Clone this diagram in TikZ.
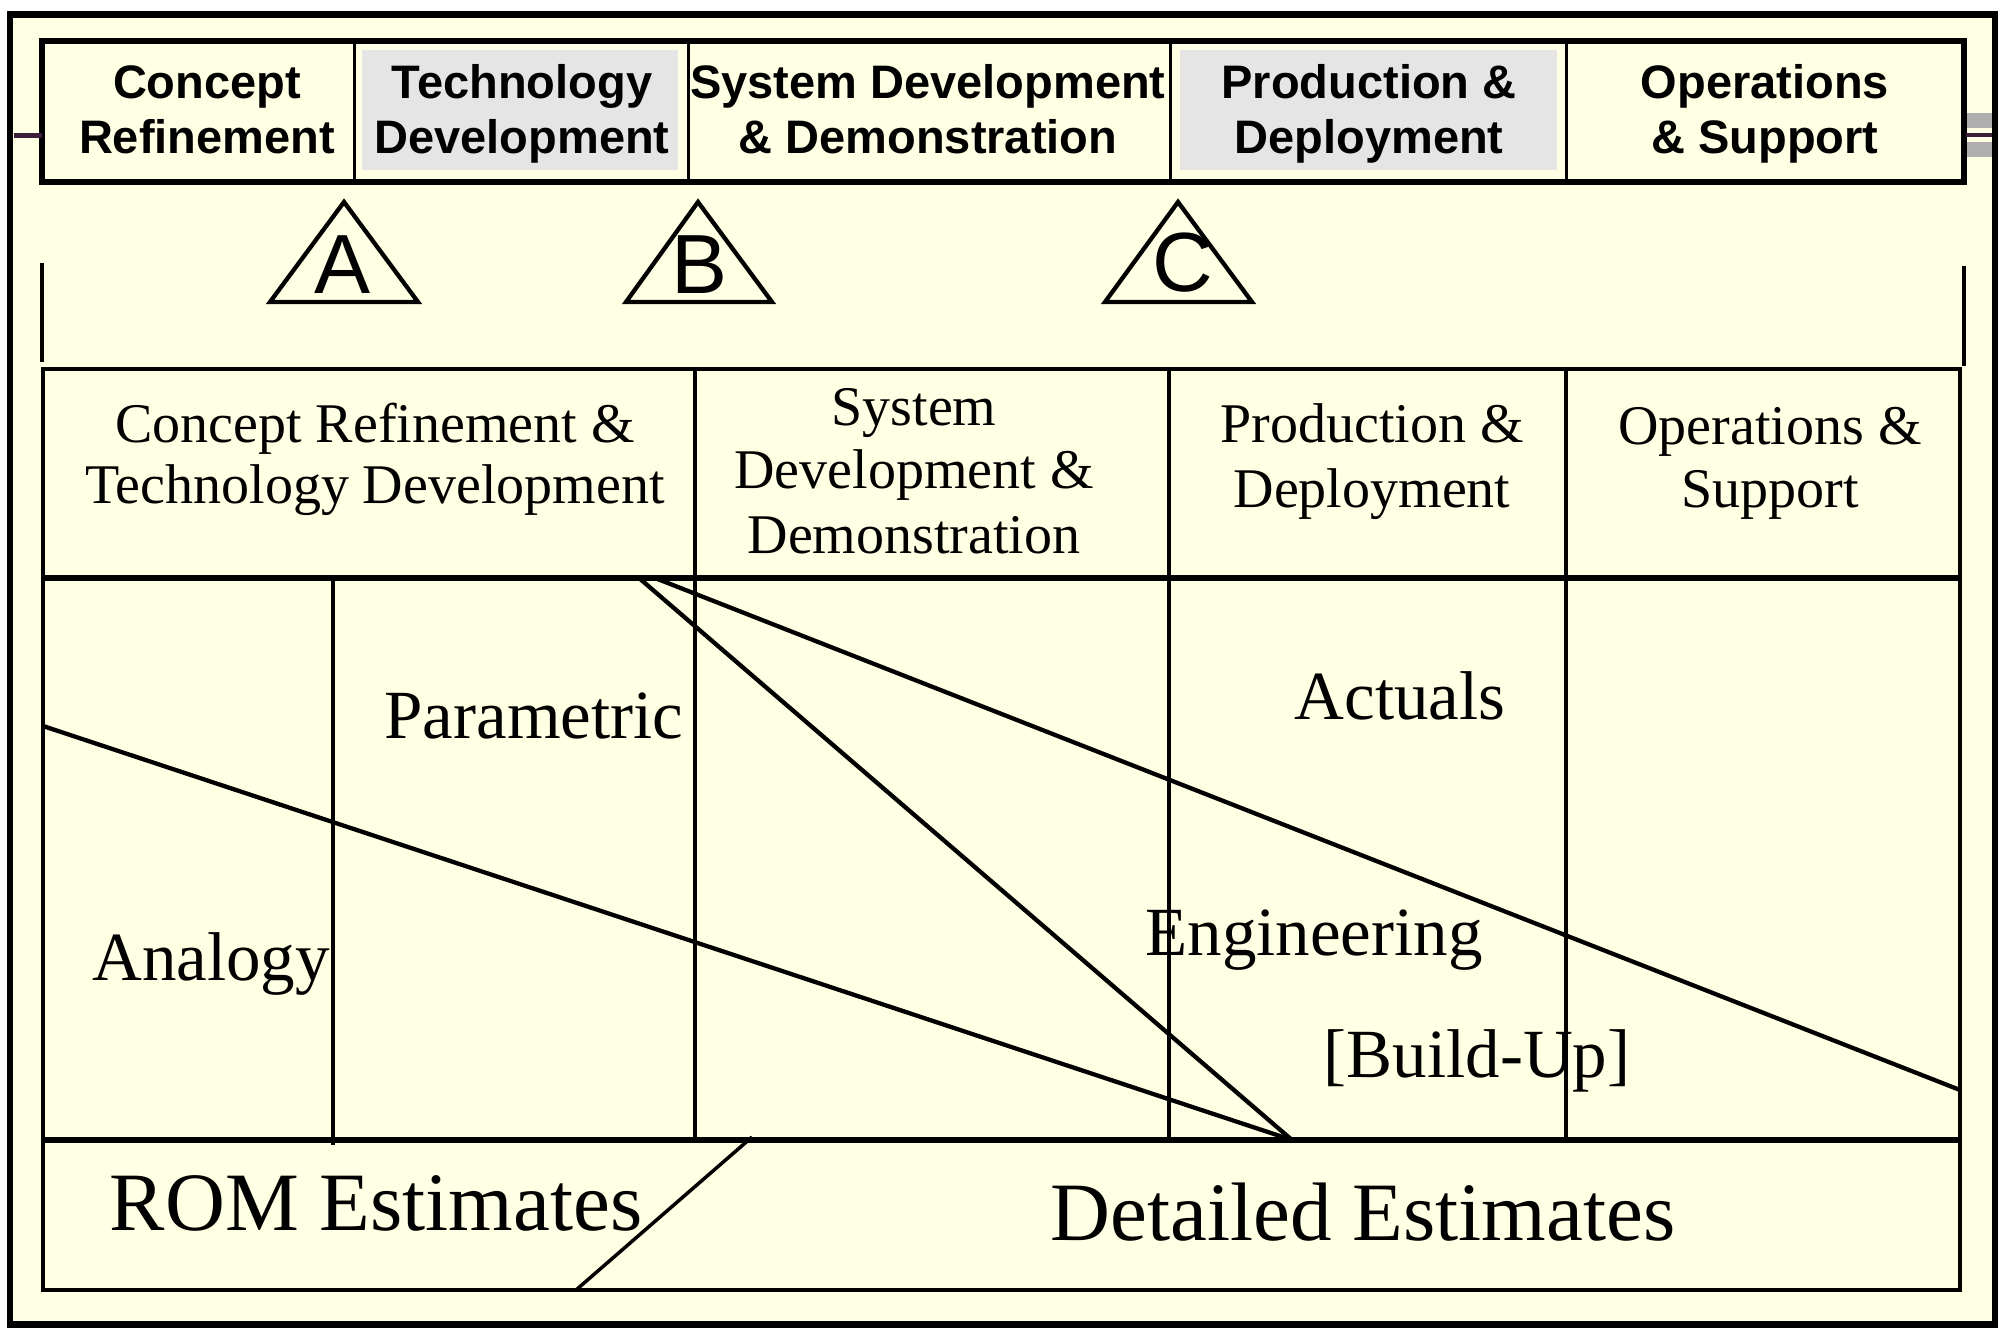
\documentclass[tikz,border=0pt]{standalone}
\usepackage{fontspec}
\setmainfont{Liberation Serif}
\newfontfamily\arialfont{Liberation Sans}
\definecolor{cream}{RGB}{255,255,228}
\definecolor{cellgray}{RGB}{229,229,229}
\definecolor{stubgray}{RGB}{175,175,175}
\definecolor{stubline}{RGB}{60,30,60}
\begin{document}
\begin{tikzpicture}[x=1pt,y=-1pt,
  phase/.style={font=\arialfont\bfseries\fontsize{47}{55}\selectfont, anchor=base, inner sep=0pt},
  mslab/.style={font=\arialfont\fontsize{84}{90}\selectfont, anchor=base, inner sep=0pt},
  hdr/.style={font=\fontsize{56}{62}\selectfont, anchor=base, inner sep=0pt},
  body/.style={font=\fontsize{69}{75}\selectfont, anchor=base, inner sep=0pt},
  est/.style={font=\fontsize{83}{90}\selectfont, anchor=base, inner sep=0pt},
  thin/.style={line width=3pt},
  mid/.style={line width=4.3pt},
  thick/.style={line width=6pt},
  tri/.style={line width=4.3pt, line join=miter}]
\useasboundingbox (0,0) rectangle (2015,1339);
\fill[white] (0,0) rectangle (2015,1339);
% outer frame
\draw[line width=6.5pt, fill=cream] (10,14.5) rectangle (1995,1324.5);

% ---- top phase bar ----
\fill[cellgray] (362,50) rectangle (678,170);
\fill[cellgray] (1180,50) rectangle (1557,170);
\draw[thick] (42,41) rectangle (1964,182);
\foreach \x/\n in {354/d1,688/d2,1170/d3,1566/d4}{
  \coordinate (\n t) at (\x,41); \coordinate (\n b) at (\x,182);
  \draw[thin] (\n t) -- (\n b);}
% stubs
\coordinate (sl1) at (14,135); \coordinate (sl2) at (42,135);
\draw[line width=5pt, stubline] (sl1) -- (sl2);
\fill[stubgray] (1967,113) rectangle (1992,128);
\fill[stubgray] (1967,142) rectangle (1992,157);
\coordinate (sr1) at (1966,135); \coordinate (sr2) at (1992,135);
\draw[line width=4pt, stubline] (sr1) -- (sr2);

\node[phase] (p1a) at (207,98) {Concept};
\node[phase] (p1b) at (207,153) {Refinement};
\node[phase] (p2a) at (522,98) {Technology};
\node[phase] (p2b) at (522,153) {Development};
\node[phase] (p3a) at (928,98) {System Development};
\node[phase] (p3b) at (928,153) {\& Demonstration};
\node[phase] (p4a) at (1369,98) {Production \&};
\node[phase] (p4b) at (1369,153) {Deployment};
\node[phase] (p5a) at (1765,98) {Operations};
\node[phase] (p5b) at (1765,153) {\& Support};

% ---- milestones ----
\coordinate (Aa) at (344,202); \coordinate (Al) at (270,302); \coordinate (Ar) at (418,302);
\coordinate (Ba) at (698,202); \coordinate (Bl) at (626,302); \coordinate (Br) at (772,302);
\coordinate (Ca) at (1178,202); \coordinate (Cl) at (1105,302); \coordinate (Cr) at (1252,302);
\draw[tri] (Aa) -- (Al) -- (Ar) -- cycle;
\draw[tri] (Ba) -- (Bl) -- (Br) -- cycle;
\draw[tri] (Ca) -- (Cl) -- (Cr) -- cycle;
\node[mslab] (mA) at (343,293) {A};
\node[mslab] (mB) at (700,293) {B};
\node[mslab] (mC) at (1183,291) {C};

\coordinate (vl1) at (42,263); \coordinate (vl2) at (42,362);
\coordinate (vr1) at (1964,266); \coordinate (vr2) at (1964,366);
\draw[mid] (vl1) -- (vl2);
\draw[line width=4.5pt] (vr1) -- (vr2);

% ---- estimate table ----
\draw[line width=4.3pt] (43,369) rectangle (1960,1290);
\coordinate (hL) at (43,578); \coordinate (hR) at (1960,578);
\coordinate (bL) at (43,1140); \coordinate (bR) at (1960,1140);
\draw[thick] (hL) -- (hR);
\draw[line width=6.5pt] (bL) -- (bR);
\foreach \x/\n in {695/v1,1169/v2,1566/v3}{
  \coordinate (\n t) at (\x,369); \coordinate (\n b) at (\x,1140);
  \draw[mid] (\n t) -- (\n b);}
\coordinate (v0t) at (333,578); \coordinate (v0b) at (333,1145);
\draw[line width=3.5pt] (v0t) -- (v0b);

% diagonals
\coordinate (conv) at (1292,1140);
\coordinate (l1s) at (43,726);
\coordinate (l2s) at (639,578);
\coordinate (l3s) at (655,578);
\coordinate (l3e) at (1960,1090);
\draw[mid] (l1s) -- (conv);
\draw[mid] (l2s) -- (conv);
\draw[mid] (l3s) -- (l3e);
\coordinate (romT) at (752,1137); \coordinate (romB) at (576,1290);
\draw[line width=3.5pt] (romT) -- (romB);

% header texts
\node[hdr] (h1a) at (375,442) {Concept Refinement \&};
\node[hdr] (h1b) at (375,503) {Technology Development};
\node[hdr] (h2a) at (914,425) {System};
\node[hdr] (h2b) at (914,488) {Development \&};
\node[hdr] (h2c) at (914,553) {Demonstration};
\node[hdr] (h3a) at (1372,442) {Production \&};
\node[hdr] (h3b) at (1372,507) {Deployment};
\node[hdr] (h4a) at (1770,444) {Operations \&};
\node[hdr] (h4b) at (1770,507) {Support};

% body texts
\node[body] (tpar) at (534,738) {Parametric};
\node[body] (tact) at (1400,719) {Actuals};
\node[body] (tana) at (211,980) {Analogy};
\node[body] (teng) at (1314,955) {Engineering};
\node[body] (tbld) at (1477,1077) {[Build-Up]};
\node[est] (trom) at (376,1230) {ROM Estimates};
\node[est] (tdet) at (1363,1240) {Detailed Estimates};
\end{tikzpicture}
\end{document}
